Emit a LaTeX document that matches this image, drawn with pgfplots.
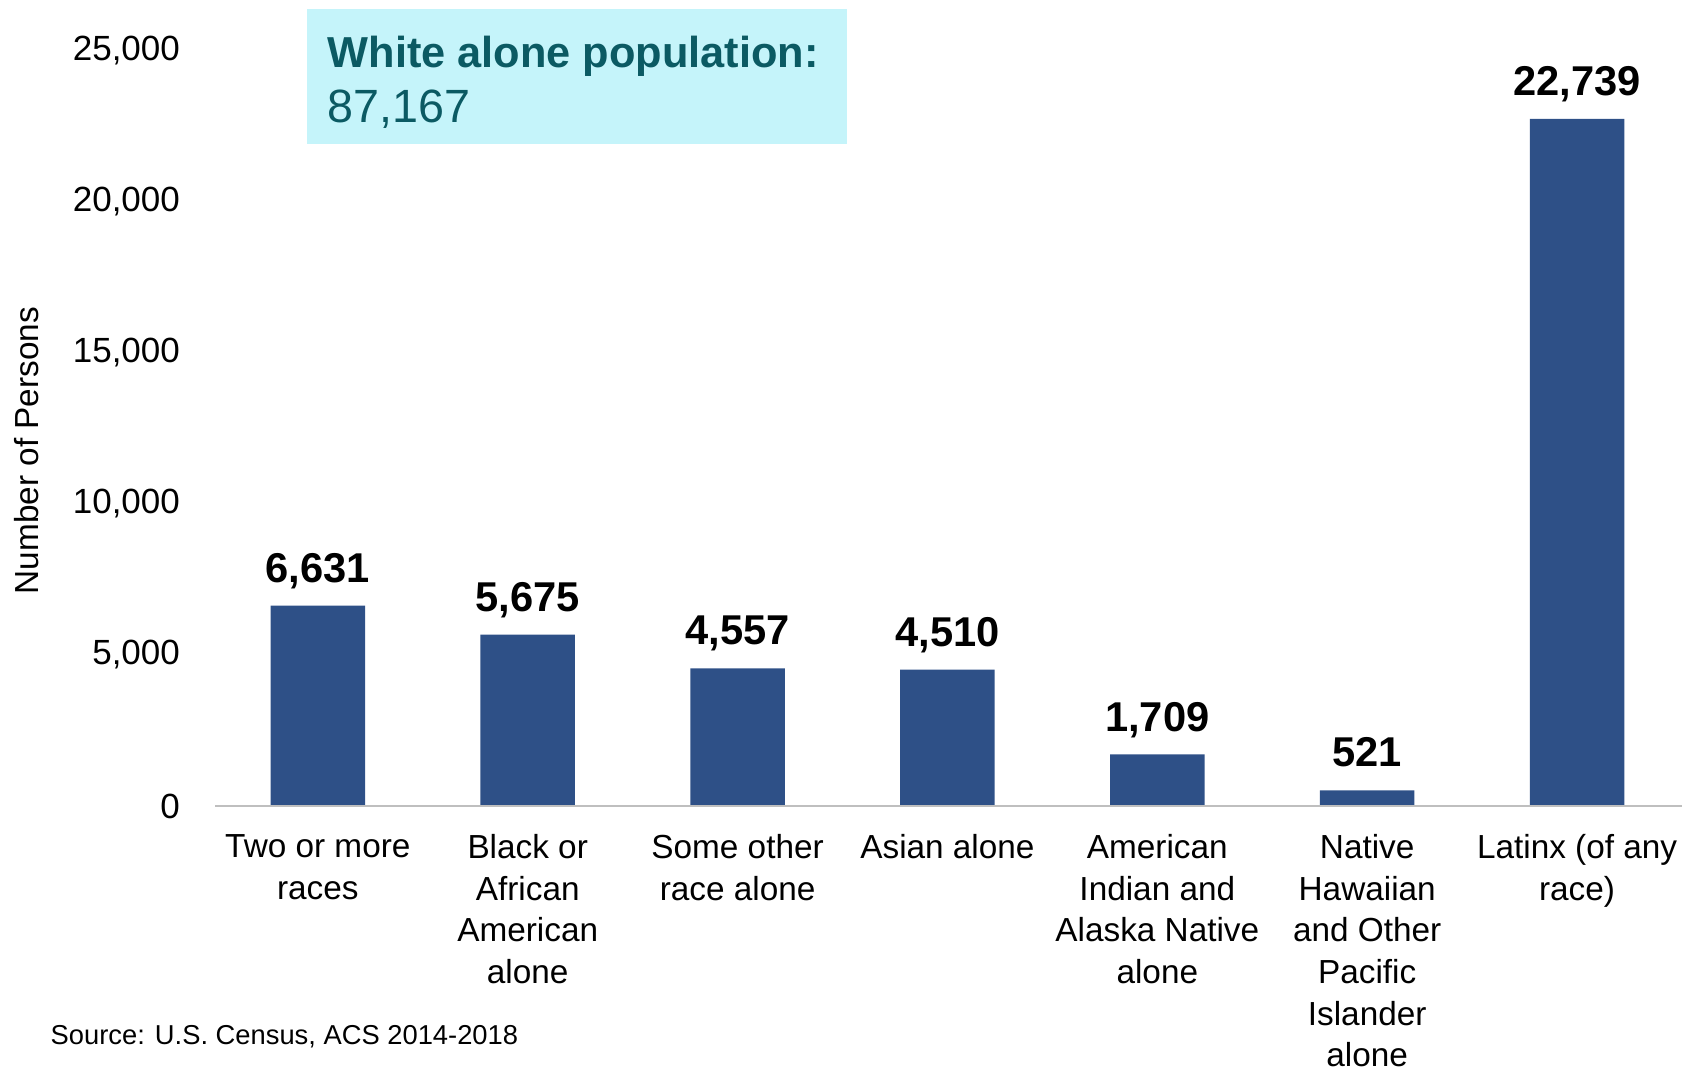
\documentclass[border=0pt]{standalone}
\usepackage{pgfplots}
\pgfplotsset{compat=1.18}
\usepackage{fontspec}
\setmainfont{Liberation Sans}
\definecolor{barblue}{HTML}{2E5087}
\definecolor{boxcyan}{HTML}{C5F4FA}
\definecolor{boxteal}{HTML}{0B5A63}
\definecolor{axisgray}{HTML}{BFBFBF}
\begin{document}
\begin{tikzpicture}
\begin{axis}[
  at={(64.5pt,78.3pt)}, anchor=south west,
  scale only axis, width=440.1pt, height=226.6pt,
  ymin=0, ymax=25000, xmin=-0.49, xmax=6.5,
  ybar, bar width=0.45,
  axis line style={draw=none},
  major tick length=0,
  scaled y ticks=false,
  /pgf/number format/assume math mode=true,
  /pgf/number format/1000 sep={,},
  ytick={0,5000,10000,15000,20000,25000},
  yticklabel style={font=\fontsize{10.5}{12}\selectfont, xshift=-7pt},
  xtick={0,1,2,3,4,5,6},
  xticklabels={{Two or more\\races},{Black or\\African\\American\\alone},{Some other\\race alone},{Asian alone},{American\\Indian and\\Alaska Native\\alone},{Native\\Hawaiian\\and Other\\Pacific\\Islander\\alone},{Latinx (of any\\race)}},
  xticklabel style={font=\fontsize{10}{12.5}\selectfont, align=center, yshift=-5pt},
  nodes near coords,
  every node near coord/.append style={font=\fontsize{12.5}{14}\selectfont\bfseries, anchor=base, yshift=7pt, inner sep=0},
  clip=false,
]
\addplot[fill=barblue, draw=none] coordinates {(0,6631) (1,5675) (2,4557) (3,4510) (4,1709) (5,521) (6,22739)};
\draw[axisgray, line width=0.8pt] (rel axis cs:0,0) -- (rel axis cs:1,0);
\end{axis}
\fill[boxcyan] (92.1pt,276.9pt) rectangle (254.1pt,317.4pt);
\node[anchor=base west, inner sep=0, text=boxteal, font=\fontsize{13}{16}\selectfont\bfseries] at (98.1pt,299.7pt) {White alone population:};
\node[anchor=base west, inner sep=0, text=boxteal, font=\fontsize{14}{16}\selectfont] at (98.1pt,283.2pt) {87,167};
\node[rotate=90, font=\fontsize{10}{12}\selectfont] at (8pt,184.9pt) {Number of Persons};
\node[anchor=west, inner sep=0, font=\fontsize{8.2}{10}\selectfont] at (15pt,9pt) {Source: U.S. Census, ACS 2014-2018};
\pgfresetboundingbox
\path[use as bounding box] (0pt,0pt) rectangle (504.6pt,320.1pt);
\end{tikzpicture}
\end{document}
